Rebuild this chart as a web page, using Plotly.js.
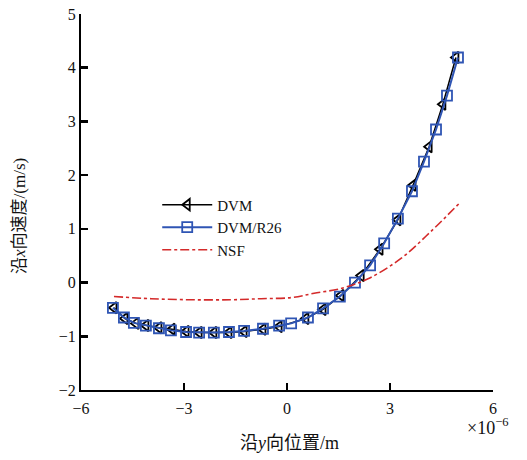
<!DOCTYPE html>
<html>
<head>
<meta charset="utf-8">
<script src="https://cdn.plot.ly/plotly-3.0.1.min.js"></script>
<style>html,body{margin:0;padding:0;background:#fff;}#chart{width:527px;height:460px;}</style>
</head>
<body>
<div id="chart"></div>
<script>
// y-position (×10^-6 m) and x-velocity (m/s)
const dvmX = [-5.04,-4.72,-4.40,-4.11,-3.73,-3.35,-2.94,-2.56,-2.13,-1.69,-1.25,-0.70,-0.23,0.55,1.05,1.57,2.16,2.71,3.23,3.67,4.14,4.54,4.92];
const dvmY = [-0.47,-0.67,-0.76,-0.80,-0.84,-0.87,-0.91,-0.93,-0.93,-0.93,-0.91,-0.87,-0.82,-0.67,-0.50,-0.24,0.13,0.62,1.17,1.81,2.53,3.32,4.19];
const r26X = [-5.07,-4.75,-4.46,-4.11,-3.73,-3.38,-2.94,-2.56,-2.13,-1.69,-1.25,-0.70,-0.23,0.12,0.61,1.05,1.54,1.98,2.42,2.83,3.23,3.64,3.99,4.34,4.66,4.98];
const r26Y = [-0.47,-0.65,-0.75,-0.80,-0.85,-0.89,-0.92,-0.93,-0.93,-0.92,-0.90,-0.86,-0.80,-0.76,-0.65,-0.48,-0.26,0.00,0.32,0.73,1.19,1.70,2.25,2.85,3.48,4.19];
const nsfX = [-5.04,-3.96,-2.80,-1.63,-0.76,0.12,0.79,1.57,2.36,3.32,4.19,5.04];
const nsfY = [-0.26,-0.30,-0.32,-0.32,-0.30,-0.28,-0.20,-0.11,0.07,0.45,0.95,1.49];
const names = ['DVM','DVM/R26','NSF'];
const xTicks = [-6,-3,0,3,6];
const yTicks = [-2,-1,0,1,2,3,4,5];

const serif = 'Liberation Serif, Times New Roman, serif';
const cjk = 'Liberation Serif, Noto Sans CJK SC, serif';

const traces = [
  {x: dvmX, y: dvmY, name: names[0], mode: 'lines+markers',
   line: {color: '#000000', width: 1.5},
   marker: {symbol: 'triangle-left-open', size: 10, color: '#000000', line: {width: 1.8}}},
  {x: r26X, y: r26Y, name: names[1], mode: 'lines+markers',
   line: {color: '#2f55b4', width: 2},
   marker: {symbol: 'square-open', size: 10, color: '#2f55b4', line: {width: 1.8}}},
  {x: nsfX, y: nsfY, name: names[2], mode: 'lines', line: {color: '#d42a2a', width: 1.6, dash: 'dashdot', shape: 'spline'}}
];

const layout = {
  width: 527, height: 460,
  margin: {l: 81, r: 34, t: 14, b: 70},
  paper_bgcolor: '#ffffff', plot_bgcolor: '#ffffff',
  font: {family: serif, size: 16, color: '#111111'},
  showlegend: true,
  legend: {x: 0.185, y: 0.536, xanchor: 'left', yanchor: 'top', bgcolor: 'rgba(0,0,0,0)',
           itemwidth: 50,
           font: {family: serif, size: 15, color: '#111111'}, tracegroupgap: 0},
  xaxis: {range: [-6, 6], tickvals: xTicks, showgrid: false, zeroline: false,
          showline: true, linecolor: '#000', linewidth: 2, mirror: false,
          ticks: 'inside', ticklen: 7, tickwidth: 2.5, tickcolor: '#000',
          ticklabelstandoff: 3,
          tickfont: {family: serif, size: 16}},
  yaxis: {range: [-2, 5], tickvals: yTicks, showgrid: false, zeroline: false,
          showline: true, linecolor: '#000', linewidth: 2, mirror: false,
          ticks: 'inside', ticklen: 7, tickwidth: 2.5, tickcolor: '#000',
          tickfont: {family: serif, size: 16}},
  annotations: [
    {text: '沿<i>x</i>向速度/(m/s)', xref: 'paper', yref: 'paper', x: -0.148, y: 0.463,
     xanchor: 'center', yanchor: 'middle', textangle: -90, showarrow: false,
     font: {family: cjk, size: 17, color: '#111'}},
    {text: '沿<i>y</i>向位置/m', xref: 'paper', yref: 'paper', x: 0.507, y: -0.14,
     xanchor: 'center', yanchor: 'middle', showarrow: false,
     font: {family: cjk, size: 18, color: '#111'}},
    {text: '×10<sup>−6</sup>', xref: 'paper', yref: 'paper', x: 0.988, y: -0.098,
     xanchor: 'center', yanchor: 'middle', showarrow: false,
     font: {family: serif, size: 18, color: '#111'}}
  ]
};

Plotly.newPlot('chart', traces, layout, {displayModeBar: false, staticPlot: true});
</script>
</body>
</html>
